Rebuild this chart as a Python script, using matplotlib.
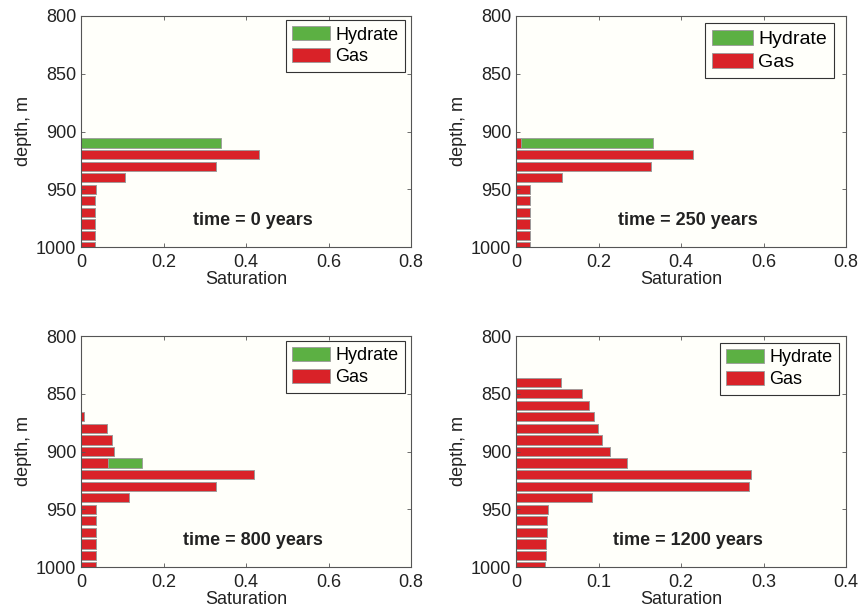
import matplotlib
matplotlib.use("Agg")
import matplotlib.pyplot as plt
import numpy as np

plt.rcParams['font.family'] = ['Liberation Sans', 'DejaVu Sans']

# ---- data ----
depth_0 = [910, 920, 930, 940, 950, 960, 970, 980, 990, 1000]
gas_0 = [0.0, 0.431, 0.328, 0.107, 0.036, 0.035, 0.035, 0.035, 0.035, 0.035]
hyd_0 = [0.339, 0, 0, 0, 0, 0, 0, 0, 0, 0]

depth_250 = [910, 920, 930, 940, 950, 960, 970, 980, 990, 1000]
gas_250 = [0.012, 0.429, 0.327, 0.111, 0.034, 0.034, 0.034, 0.034, 0.034, 0.034]
hyd_250 = [0.321, 0, 0, 0, 0, 0, 0, 0, 0, 0]

depth_800 = [870, 880, 890, 900, 910, 920, 930, 940, 950, 960, 970, 980, 990, 1000]
gas_800 = [0.0065, 0.062, 0.076, 0.080, 0.065, 0.420, 0.328, 0.117, 0.037, 0.036, 0.036, 0.036, 0.036, 0.036]
hyd_800 = [0, 0, 0, 0, 0.083, 0, 0, 0, 0, 0, 0, 0, 0, 0]

depth_1200 = [840, 850, 860, 870, 880, 890, 900, 910, 920, 930, 940, 950, 960, 970, 980, 990, 1000]
gas_1200 = [0.0545, 0.080, 0.089, 0.094, 0.099, 0.104, 0.114, 0.135, 0.285, 0.282, 0.092,
            0.039, 0.0375, 0.037, 0.0368, 0.036, 0.0355]
hyd_1200 = [0] * 17

titles = ["time = 0 years", "time = 250 years", "time = 800 years", "time = 1200 years"]
xlims = [0.8, 0.8, 0.8, 0.4]
xticks = [[0, 0.2, 0.4, 0.6, 0.8]] * 3 + [[0, 0.1, 0.2, 0.3, 0.4]]
xticklabels = [["0", "0.2", "0.4", "0.6", "0.8"]] * 3 + [["0", "0.1", "0.2", "0.3", "0.4"]]
yticks = [800, 850, 900, 950, 1000]

panels = [(depth_0, gas_0, hyd_0), (depth_250, gas_250, hyd_250),
          (depth_800, gas_800, hyd_800), (depth_1200, gas_1200, hyd_1200)]

GREEN = '#5cb043'
RED = '#d92228'
BG = '#fffffa'
TXT = '#222222'

W, H = 863, 616
fig = plt.figure(figsize=(W / 100, H / 100), dpi=100)
fig.patch.set_facecolor('white')

# axes boxes in pixels: left, top, right, bottom
boxes = [(81, 16, 411, 247), (516, 16, 846, 247),
         (81, 336, 411, 567), (516, 336, 846, 567)]
# legend anchor (right, top) in pixels
legboxes = [(405, 20), (834, 23), (405, 341), (839, 343)]
legfs = [13, 14, 13, 13]

for i, ((d, g, h), box) in enumerate(zip(panels, boxes)):
    l, t, r, b = box
    ax = fig.add_axes([l / W, 1 - b / H, (r - l) / W, (b - t) / H])
    ax.set_facecolor(BG)
    ax.barh(d, g, height=8, color=RED, edgecolor='#9a9a9a', linewidth=0.6, label='Gas')
    ax.barh(d, h, left=g, height=8, color=GREEN, edgecolor='#9a9a9a', linewidth=0.6, label='Hydrate')
    ax.set_ylim(1000, 800)
    ax.set_xlim(0, xlims[i])
    ax.set_yticks(yticks)
    ax.set_xticks(xticks[i])
    ax.set_xticklabels(xticklabels[i])
    ax.tick_params(direction='in', length=3, width=0.6, labelsize=13, colors='#555555',
                   labelcolor=TXT, top=True, right=True)
    ax.tick_params(axis='x', pad=5)
    ax.tick_params(axis='y', pad=3.5)
    for s in ax.spines.values():
        s.set_color('#555555')
        s.set_linewidth(0.8)
    ax.set_xlabel('Saturation', fontsize=13, labelpad=0, color=TXT)
    ax.set_ylabel('depth, m', fontsize=13, labelpad=3, color=TXT)
    ax.text(0.52, 0.115, titles[i], transform=ax.transAxes, ha='center', va='center',
            fontsize=13, fontweight='bold', color=TXT)
    handles, labels = ax.get_legend_handles_labels()
    lr, lt = legboxes[i]
    leg = ax.legend([handles[1], handles[0]], ['Hydrate', 'Gas'], loc='upper right',
                    bbox_to_anchor=(lr / W, 1 - lt / H), bbox_transform=fig.transFigure,
                    borderaxespad=0,
                    fontsize=legfs[i], fancybox=False, edgecolor='#333333', framealpha=1,
                    facecolor=BG, handlelength=2.1, handleheight=0.8, handletextpad=0.3,
                    borderpad=0.35, labelspacing=0.25)
    leg.get_frame().set_linewidth(0.8)

fig.savefig('out.png', dpi=100)
